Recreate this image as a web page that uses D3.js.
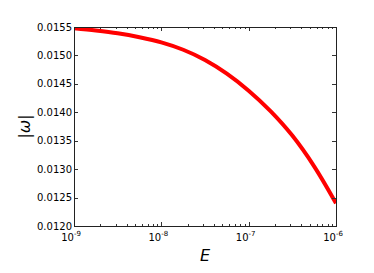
<!DOCTYPE html>
<html>
<head>
<meta charset="utf-8">
<script src="https://cdn.jsdelivr.net/npm/d3@7"></script>
<style>
  body { margin: 0; background: #fff; }
  text { font-family: "DejaVu Sans", sans-serif; }
</style>
</head>
<body>
<script>
const width = 374;
const height = 273;

// E values (quarter decades) and |omega|
const energy = [1e-9, 1.78e-9, 3.16e-9, 5.62e-9, 1e-8, 1.78e-8, 3.16e-8, 5.62e-8, 1e-7, 1.78e-7, 3.16e-7, 5.62e-7, 1e-6];
const omega = [0.01548, 0.01544, 0.01539, 0.01532, 0.01523, 0.01510, 0.01492, 0.01468, 0.01438, 0.01402, 0.01359, 0.01305, 0.01240];
const yTicks = [0.0120, 0.0125, 0.0130, 0.0135, 0.0140, 0.0145, 0.0150, 0.0155];
const xExponents = [-9, -8, -7, -6];

const margin = { top: 27, right: 38, bottom: 47, left: 74 };
const x = d3.scaleLog().domain([1e-9, 1e-6]).range([margin.left, width - margin.right]);
const y = d3.scaleLinear().domain([0.0120, 0.0155]).range([height - margin.bottom, margin.top]);

const svg = d3.select("body").append("svg")
  .attr("width", width)
  .attr("height", height);

const x0 = x.range()[0], x1 = x.range()[1];
const y0 = y.range()[0], y1 = y.range()[1];

// curve
const line = d3.line()
  .x((d, i) => x(energy[i]))
  .y((d) => y(d))
  .curve(d3.curveCatmullRom.alpha(0.5));

svg.append("defs").append("clipPath").attr("id", "clip")
  .append("rect").attr("x", x0).attr("y", y1).attr("width", x1 - x0).attr("height", y0 - y1);

svg.append("path")
  .datum(omega)
  .attr("clip-path", "url(#clip)")
  .attr("d", line)
  .attr("fill", "none")
  .attr("stroke", "#ff0000")
  .attr("stroke-width", 4)
  .attr("stroke-linejoin", "round");

// inward ticks on all sides
const ticks = svg.append("g").attr("stroke", "#333").attr("stroke-width", 1);
yTicks.forEach((t) => {
  const yy = Math.round(y(t)) + 0.5;
  ticks.append("line").attr("x1", x0).attr("x2", x0 + 4).attr("y1", yy).attr("y2", yy);
  ticks.append("line").attr("x1", x1 - 4).attr("x2", x1).attr("y1", yy).attr("y2", yy);
});
const minor = x.ticks();
minor.forEach((t) => {
  const major = xExponents.some((e) => Math.abs(Math.log10(t) - e) < 1e-9);
  const len = major ? 4 : 2;
  const xx = Math.round(x(t)) + 0.5;
  ticks.append("line").attr("x1", xx).attr("x2", xx).attr("y1", y0).attr("y2", y0 - len);
  ticks.append("line").attr("x1", xx).attr("x2", xx).attr("y1", y1).attr("y2", y1 + len);
});

// frame
svg.append("rect")
  .attr("x", x0 + 0.5).attr("y", y1 + 0.5)
  .attr("width", x1 - x0).attr("height", y0 - y1)
  .attr("fill", "none").attr("stroke", "#222").attr("stroke-width", 1);

// y tick labels
svg.append("g").selectAll("text")
  .data(yTicks)
  .join("text")
  .attr("x", x0 - 2)
  .attr("y", (d) => y(d) + 3.5)
  .attr("text-anchor", "end")
  .attr("font-size", 10)
  .attr("fill", "#000")
  .text((d) => d.toFixed(4));

// x tick labels 10^n
const xl = svg.append("g").selectAll("text")
  .data(xExponents)
  .join("text")
  .attr("x", (d) => x(Math.pow(10, d)) - 3)
  .attr("y", y0 + 14.5)
  .attr("text-anchor", "middle")
  .attr("font-size", 10)
  .attr("fill", "#000");
xl.append("tspan").text("10");
xl.append("tspan")
  .attr("dy", -5)
  .attr("font-size", 7)
  .text((d) => "-" + Math.abs(d));

// axis labels
svg.append("text")
  .attr("x", (x0 + x1) / 2)
  .attr("y", 261)
  .attr("text-anchor", "middle")
  .attr("font-family", "DejaVu Serif, serif")
  .attr("font-style", "italic")
  .attr("font-size", 16)
  .text("E");

svg.append("text")
  .attr("transform", `translate(30, ${(y0 + y1) / 2}) rotate(-90)`)
  .attr("text-anchor", "middle")
  .attr("font-family", "DejaVu Serif, serif")
  .attr("font-style", "italic")
  .attr("font-size", 16)
  .text("|ω|");
</script>
</body>
</html>
